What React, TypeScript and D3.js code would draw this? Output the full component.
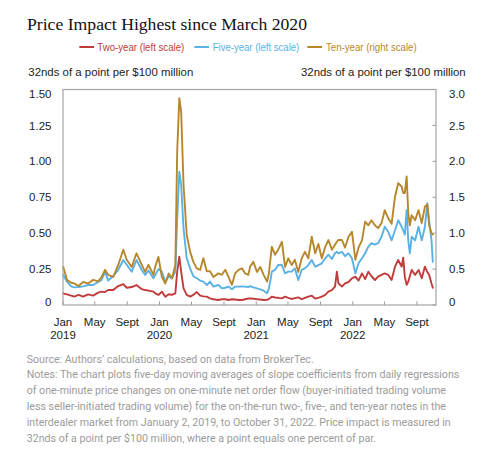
import React from 'react';
import * as d3 from 'd3';

const dates = [
  '2019-01-02','2019-01-16','2019-02-01','2019-02-12','2019-03-01','2019-03-18','2019-04-06','2019-04-25',
  '2019-05-14','2019-05-27','2019-06-09','2019-06-21','2019-07-10','2019-07-29','2019-08-17','2019-08-30',
  '2019-09-18','2019-10-06','2019-10-26','2019-11-08','2019-11-20','2019-12-09','2019-12-16','2019-12-28',
  '2020-01-10','2020-01-23','2020-02-05','2020-02-17','2020-03-01','2020-03-08','2020-03-16','2020-03-23',
  '2020-04-01','2020-04-13','2020-04-26','2020-05-08','2020-05-21','2020-06-03','2020-06-15','2020-06-28',
  '2020-07-10','2020-07-23','2020-08-11','2020-08-24','2020-09-06','2020-09-18','2020-10-01','2020-10-13',
  '2020-10-26','2020-11-08','2020-11-20','2020-12-02','2020-12-09','2020-12-21','2021-01-04','2021-01-16',
  '2021-01-29','2021-02-11','2021-02-17','2021-02-24','2021-03-01','2021-03-13','2021-03-25','2021-04-08',
  '2021-04-20','2021-05-02','2021-05-15','2021-05-27','2021-06-09','2021-06-22','2021-07-04','2021-07-17',
  '2021-07-30','2021-08-12','2021-08-24','2021-09-06','2021-09-19','2021-10-01','2021-10-14','2021-10-26',
  '2021-11-02','2021-11-08','2021-11-21','2021-12-03','2021-12-16','2021-12-29','2022-01-11','2022-01-23',
  '2022-02-05','2022-02-17','2022-03-01','2022-03-13','2022-03-26','2022-04-07','2022-04-20','2022-05-02',
  '2022-05-15','2022-05-28','2022-06-10','2022-06-22','2022-07-05','2022-07-11','2022-07-17','2022-07-24',
  '2022-07-30','2022-08-05','2022-08-12','2022-08-25','2022-09-07','2022-09-19','2022-10-01','2022-10-10',
  '2022-10-17','2022-10-26','2022-10-31',
];

const twoYear = [
  0.081,0.074,0.065,0.058,0.07,0.058,0.074,0.065,
  0.086,0.093,0.09,0.104,0.104,0.132,0.146,0.12,
  0.125,0.139,0.11,0.104,0.10,0.093,0.081,0.07,
  0.093,0.058,0.075,0.07,0.081,0.232,0.336,0.232,
  0.116,0.07,0.058,0.07,0.09,0.065,0.06,0.058,
  0.046,0.04,0.035,0.04,0.04,0.035,0.04,0.038,
  0.035,0.035,0.04,0.045,0.046,0.044,0.04,0.038,
  0.035,0.037,0.04,0.05,0.058,0.052,0.05,0.046,
  0.058,0.05,0.042,0.048,0.053,0.04,0.05,0.058,
  0.065,0.045,0.05,0.058,0.07,0.093,0.104,0.128,
  0.232,0.151,0.128,0.151,0.16,0.186,0.197,0.17,
  0.22,0.18,0.232,0.20,0.174,0.197,0.21,0.22,
  0.21,0.174,0.267,0.313,0.267,0.33,0.197,0.14,
  0.162,0.20,0.244,0.21,0.244,0.186,0.267,0.23,
  0.21,0.15,0.12,
];

const fiveYear = [
  0.209,0.162,0.13,0.123,0.125,0.13,0.139,0.139,
  0.16,0.174,0.232,0.17,0.20,0.244,0.313,0.28,
  0.232,0.313,0.244,0.209,0.24,0.186,0.209,0.25,
  0.232,0.16,0.2,0.186,0.232,0.60,0.928,0.835,
  0.53,0.325,0.255,0.2,0.186,0.17,0.163,0.139,
  0.163,0.128,0.139,0.116,0.12,0.128,0.11,0.128,
  0.128,0.13,0.128,0.125,0.132,0.123,0.116,0.109,
  0.10,0.081,0.11,0.174,0.232,0.244,0.278,0.278,
  0.22,0.232,0.232,0.255,0.174,0.244,0.255,0.278,
  0.313,0.267,0.278,0.29,0.325,0.35,0.32,0.36,
  0.37,0.36,0.37,0.34,0.36,0.325,0.22,0.29,
  0.325,0.36,0.406,0.43,0.42,0.43,0.475,0.545,
  0.51,0.45,0.52,0.59,0.545,0.52,0.49,0.66,
  0.45,0.36,0.475,0.45,0.545,0.45,0.545,0.708,
  0.59,0.45,0.30,
];

const tenYear = [
  0.53,0.35,0.31,0.30,0.265,0.32,0.30,0.35,
  0.33,0.39,0.49,0.42,0.39,0.557,0.77,0.63,
  0.53,0.72,0.56,0.46,0.56,0.42,0.534,0.67,
  0.39,0.30,0.44,0.37,0.557,2.14,2.88,2.69,
  1.67,0.975,0.74,0.60,0.51,0.49,0.65,0.47,
  0.47,0.39,0.44,0.42,0.49,0.39,0.28,0.44,
  0.49,0.51,0.44,0.42,0.534,0.60,0.46,0.53,
  0.42,0.325,0.42,0.65,0.81,0.70,0.77,0.88,
  0.53,0.65,0.557,0.63,0.46,0.65,0.74,0.65,
  0.95,0.72,0.85,0.65,0.81,0.905,0.77,0.84,
  0.88,0.905,0.905,0.80,0.95,1.02,0.63,0.80,
  0.90,1.16,1.11,1.18,1.11,1.07,1.14,1.32,
  1.21,1.13,1.51,1.695,1.65,1.56,1.56,1.79,
  1.28,1.11,1.25,1.18,1.32,1.14,1.37,1.40,
  1.11,1.0,0.98,
];

const leftTicks = [0, 0.25, 0.5, 0.75, 1.0, 1.25, 1.5];
const rightTicks = [0, 0.5, 1.0, 1.5, 2.0, 2.5, 3.0];
const monthTicks = [
  '2019-01-01','2019-05-01','2019-09-01','2020-01-01','2020-05-01','2020-09-01',
  '2021-01-01','2021-05-01','2021-09-01','2022-01-01','2022-05-01','2022-09-01',
];
const monthNames = ['Jan', 'May', 'Sept'];
const seriesNames = ['Two-year (left scale)', 'Five-year (left scale)', 'Ten-year (right scale)'];
const seriesColors = ['#c23b3b', '#5ab1e5', '#b7872c'];
const titleText = 'Price Impact Highest since March 2020';
const axisTitle = '32nds of a point per $100 million';
const notes = [
  'Source: Authors\u2019 calculations, based on data from BrokerTec.',
  'Notes: The chart plots five-day moving averages of slope coefficients from daily regressions',
  'of one-minute price changes on one-minute net order flow (buyer-initiated trading volume',
  'less seller-initiated trading volume) for the on-the-run two-, five-, and ten-year notes in the',
  'interdealer market from January 2, 2019, to October 31, 2022. Price impact is measured in',
  '32nds of a point per $100 million, where a point equals one percent of par.',
];
const noteWidths = [287, 432.6, 419.3, 419.3, 424, 349.3];

export default function App() {
  const W = 491, H = 456;
  const L = 63, R = 436, T = 89.5, B = 305;
  const parse = d3.timeParse('%Y-%m-%d');
  const x = d3.scaleTime().domain([parse('2019-01-01')!, parse('2022-11-12')!]).range([L, R]);
  const yL = d3.scaleLinear().domain([0, 1.5]).range([B, T]);
  const yR = d3.scaleLinear().domain([0, 3]).range([B, T]);
  const ds = dates.map((d) => parse(d)!);

  const mk = (vals: number[], y: d3.ScaleLinear<number, number>) =>
    d3.line<number>().x((_, i) => x(ds[i])).y((v) => y(v))(vals) || '';

  const paths = [mk(twoYear, yL), mk(fiveYear, yL), mk(tenYear, yR)];
  const sans = '"Liberation Sans", Arial, sans-serif';
  const legendLayout = [
    { lx: 79.3, tx: 97.3, w: 87 },
    { lx: 194.3, tx: 212.7, w: 86.6 },
    { lx: 307.3, tx: 326, w: 90.7 },
  ];
  const nudge = (i: number, n: number) => (i === 0 ? -3 : i === n - 1 ? 4 : 0);

  return (
    <svg width={W} height={H} style={{ position: 'absolute', left: 0, top: 0, background: '#fff' }}>
      <text x={27} y={30} fontFamily='"Liberation Serif", "DejaVu Serif", serif' fontSize={17.5} fill="#111"
        textLength={280} lengthAdjust="spacingAndGlyphs">{titleText}</text>

      {seriesNames.map((n, i) => (
        <g key={n}>
          <line x1={legendLayout[i].lx} x2={legendLayout[i].lx + 14.7} y1={47} y2={47}
            stroke={seriesColors[i]} strokeWidth={2} />
          <text x={legendLayout[i].tx} y={50.5} fontFamily={sans} fontSize={10} fill={seriesColors[i]}
            textLength={legendLayout[i].w} lengthAdjust="spacingAndGlyphs">{n}</text>
        </g>
      ))}

      <text x={28.3} y={76} fontFamily={sans} fontSize={11.5} fill="#222"
        textLength={165} lengthAdjust="spacingAndGlyphs">{axisTitle}</text>
      <text x={301} y={76} fontFamily={sans} fontSize={11.5} fill="#222"
        textLength={164.7} lengthAdjust="spacingAndGlyphs">{axisTitle}</text>

      {leftTicks.map((t, i) => (
        <text key={'l' + t} x={51.5} y={yL(t) + nudge(i, leftTicks.length)} dy="0.36em" textAnchor="end"
          fontFamily={sans} fontSize={11.5} fill="#222">{t === 0 ? '0' : t.toFixed(2)}</text>
      ))}
      {rightTicks.map((t, i) => (
        <g key={'r' + t}>
          <line x1={R - 3.5} x2={R} y1={yR(t)} y2={yR(t)} stroke="#999" strokeWidth={1} />
          <text x={449} y={yR(t) + nudge(i, rightTicks.length)} dy="0.36em"
            fontFamily={sans} fontSize={11.5} fill="#222">{t === 0 ? '0' : t.toFixed(1)}</text>
        </g>
      ))}

      {monthTicks.map((m, i) => {
        const d = parse(m)!;
        const xx = x(d);
        const isJan = d.getMonth() === 0;
        return (
          <g key={m}>
            <line x1={xx} x2={xx} y1={B} y2={B - 3.5} stroke="#999" strokeWidth={1} />
            <text x={xx} y={325.5} textAnchor="middle" fontFamily={sans} fontSize={11.5} fill="#222">
              {monthNames[i % 3]}
            </text>
            {isJan && (
              <text x={xx} y={339} textAnchor="middle" fontFamily={sans} fontSize={11.5} fill="#222">
                {d.getFullYear()}
              </text>
            )}
          </g>
        );
      })}

      {paths.map((p, i) => (
        <path key={i} d={p} fill="none" stroke={seriesColors[i]} strokeWidth={1.9}
          strokeLinejoin="round" strokeLinecap="round" />
      ))}

      <rect x={L} y={T} width={R - L} height={B - T} fill="none" stroke="#a3a3a3" strokeWidth={1.2} />

      {notes.map((n, i) => (
        <text key={i} x={26.7} y={362.5 + i * 15.8} fontFamily='Roboto, "Liberation Sans", sans-serif'
          fontSize={11.3} fill="#9b9b9b" textLength={noteWidths[i]} lengthAdjust="spacingAndGlyphs">{n}</text>
      ))}
    </svg>
  );
}
